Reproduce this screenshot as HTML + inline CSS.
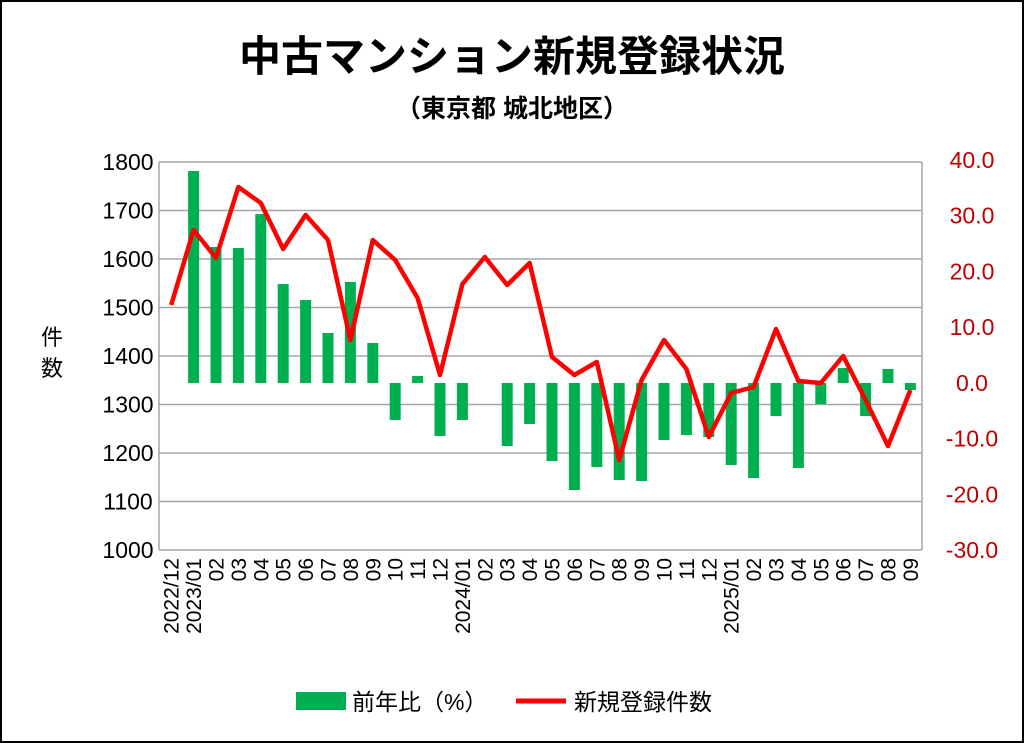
<!DOCTYPE html>
<html><head><meta charset="utf-8"><style>
body{margin:0;background:#fff}
svg{display:block}
text{font-family:"Liberation Sans","Noto Sans CJK JP",sans-serif}
</style></head><body>
<svg id="s" width="1024" height="744" xmlns="http://www.w3.org/2000/svg">
<rect x="1" y="1" width="1022" height="741" fill="#fff" stroke="#000" stroke-width="2"/>
<text x="512" y="71" text-anchor="middle" font-size="42" font-weight="bold" font-family="Noto Sans CJK JP,sans-serif">中古マンション新規登録状況</text>
<text x="512" y="117" text-anchor="middle" font-size="25" font-weight="bold" font-family="Noto Sans CJK JP,sans-serif">（東京都 城北地区）</text>
<g id="g"></g>
<text x="52" y="345" text-anchor="middle" font-size="22" font-family="Noto Sans CJK JP,sans-serif">件</text>
<text x="52" y="376" text-anchor="middle" font-size="22" font-family="Noto Sans CJK JP,sans-serif">数</text>
<rect x="296" y="692" width="50" height="18" fill="#00b050"/>
<text x="352" y="710" font-size="23" font-family="Noto Sans CJK JP,sans-serif">前年比（%）</text>
<line x1="516" y1="701" x2="566" y2="701" stroke="#ff0000" stroke-width="5"/>
<text x="574" y="710" font-size="23" font-family="Noto Sans CJK JP,sans-serif">新規登録件数</text>
</svg>
<script>
var g=document.getElementById('g'),h='';
var L=159,R=922,T=162,B=550;
for(var i=0;i<=8;i++){var y=T+i*(B-T)/8;
 h+='<line x1="'+L+'" x2="'+R+'" y1="'+y+'" y2="'+y+'" stroke="#a6a6a6" stroke-width="1.5"/>';
 h+='<text x="128" y="'+(y+8)+'" text-anchor="middle" font-size="23">'+(1800-i*100)+'</text>';}
h+='<line x1="'+L+'" x2="'+L+'" y1="'+T+'" y2="'+B+'" stroke="#a6a6a6" stroke-width="1.5"/>';
h+='<line x1="'+R+'" x2="'+R+'" y1="'+T+'" y2="'+B+'" stroke="#a6a6a6" stroke-width="1.5"/>';
for(var i=0;i<=7;i++){var v=40-i*10;var y=160+i*(550-160)/7;
 h+='<text x="972" y="'+(y+8)+'" text-anchor="middle" font-size="23" fill="#c00000">'+v.toFixed(1)+'</text>';}
var bars=[null,171,247,248,214,284,300,333,282,343,420,376,436,420,383,446,424,461,490,467,480,481,440,435,437,465,478,416,468,404,368,416,369,390];
var line=[305,230,258,187,203,249,215,240,340,240,260,298,375,284,257,285,263,357,375,362,460,380,340,369,437,393,387,329,381,383,356,400,446,390];
var labs=['2022/12','2023/01','02','03','04','05','06','07','08','09','10','11','12','2024/01','02','03','04','05','06','07','08','09','10','11','12','2025/01','02','03','04','05','06','07','08','09'];
var Z=383,pts=[];
for(var i=0;i<34;i++){var cx=171.2+22.4*i;
 if(bars[i]!=null){var t=Math.min(bars[i],Z),b=Math.max(bars[i],Z);
  h+='<rect x="'+(cx-5.5)+'" y="'+t+'" width="11" height="'+(b-t)+'" fill="#00b050"/>';}
 pts.push(cx+','+line[i]);
 h+='<text transform="translate('+(cx+7.5)+',558) rotate(-90)" text-anchor="end" font-size="21">'+labs[i]+'</text>';}
h+='<polyline points="'+pts.join(' ')+'" fill="none" stroke="#ff0000" stroke-width="4.5" stroke-linejoin="round"/>';
g.innerHTML=h;
</script>
</body></html>
